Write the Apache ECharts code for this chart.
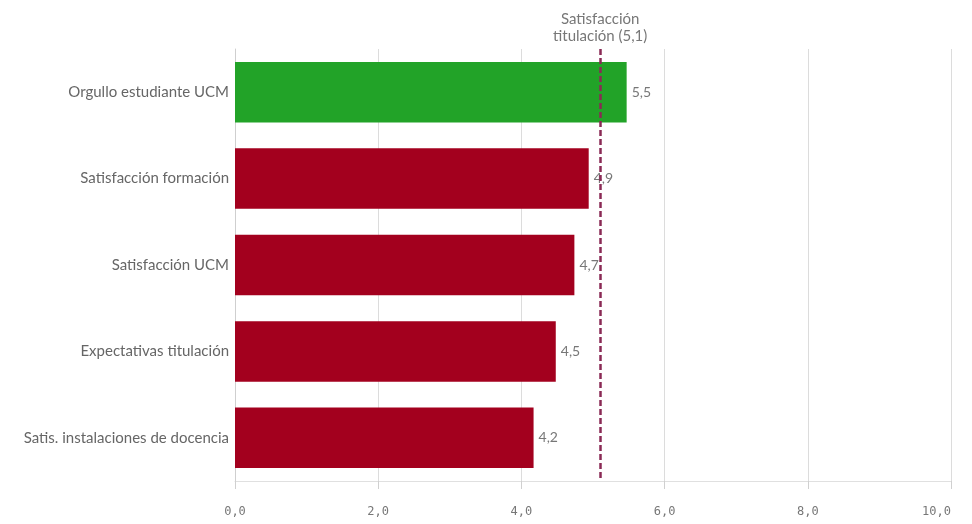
<!DOCTYPE html>
<html><head><meta charset="utf-8">
<script src="https://cdn.jsdelivr.net/npm/echarts@6/dist/echarts.min.js"></script>
<style>html,body{margin:0;padding:0;background:#fff}#c{width:972px;height:524px}</style>
</head><body><div id="c"></div>
<script>
const categories = ["Orgullo estudiante UCM","Satisfacción formación","Satisfacción UCM","Expectativas titulación","Satis. instalaciones de docencia"];
const values = [5.47, 4.94, 4.74, 4.48, 4.17];
const barColors = ["#22a328", "#a3001e", "#a3001e", "#a3001e", "#a3001e"];
const referenceValue = 5.1;
const referenceLabel = "Satisfacción\ntitulación (5,1)";
const xTicks = [0, 2, 4, 6, 8, 10];

const fmt = v => v.toFixed(1).replace('.', ',');
const chart = echarts.init(document.getElementById('c'));
chart.setOption({
  animation: false,
  textStyle: { fontFamily: 'Lato, "Noto Sans", sans-serif' },
  grid: { left: 235, right: 21, top: 49, bottom: 43, containLabel: false },
  xAxis: {
    type: 'value', min: xTicks[0], max: xTicks[xTicks.length - 1], interval: 2,
    axisLine: { show: true, lineStyle: { color: '#e0e0e0' } },
    axisTick: { show: true, length: 8, lineStyle: { color: '#d0d0d0' } },
    splitLine: { show: true, lineStyle: { color: '#dcdcdc' } },
    axisLabel: { formatter: v => fmt(v), color: '#777', fontSize: 12, margin: 25, alignMaxLabel: 'right', fontFamily: '"DejaVu Sans Mono", monospace' }
  },
  yAxis: {
    type: 'category', data: categories, inverse: true,
    axisLine: { show: true, lineStyle: { color: '#cfcfcf' } },
    axisTick: { show: false },
    axisLabel: { color: '#666', fontSize: 15, margin: 6 }
  },
  series: [{
    type: 'bar',
    data: values.map((v, i) => ({ value: v, itemStyle: { color: barColors[i] } })),
    barCategoryGap: '30%',
    label: { show: true, position: 'right', distance: 5, color: '#777', fontSize: 14, formatter: p => fmt(p.value) },
    markLine: {
      silent: true, symbol: 'none',
      lineStyle: { color: '#8a2a55', type: [6, 3], width: 2.5 },
      label: { show: true, position: 'start', formatter: referenceLabel, color: '#777', fontSize: 15, lineHeight: 17, distance: 4 },
      data: [{ xAxis: referenceValue }]
    }
  }]
});
</script></body></html>
